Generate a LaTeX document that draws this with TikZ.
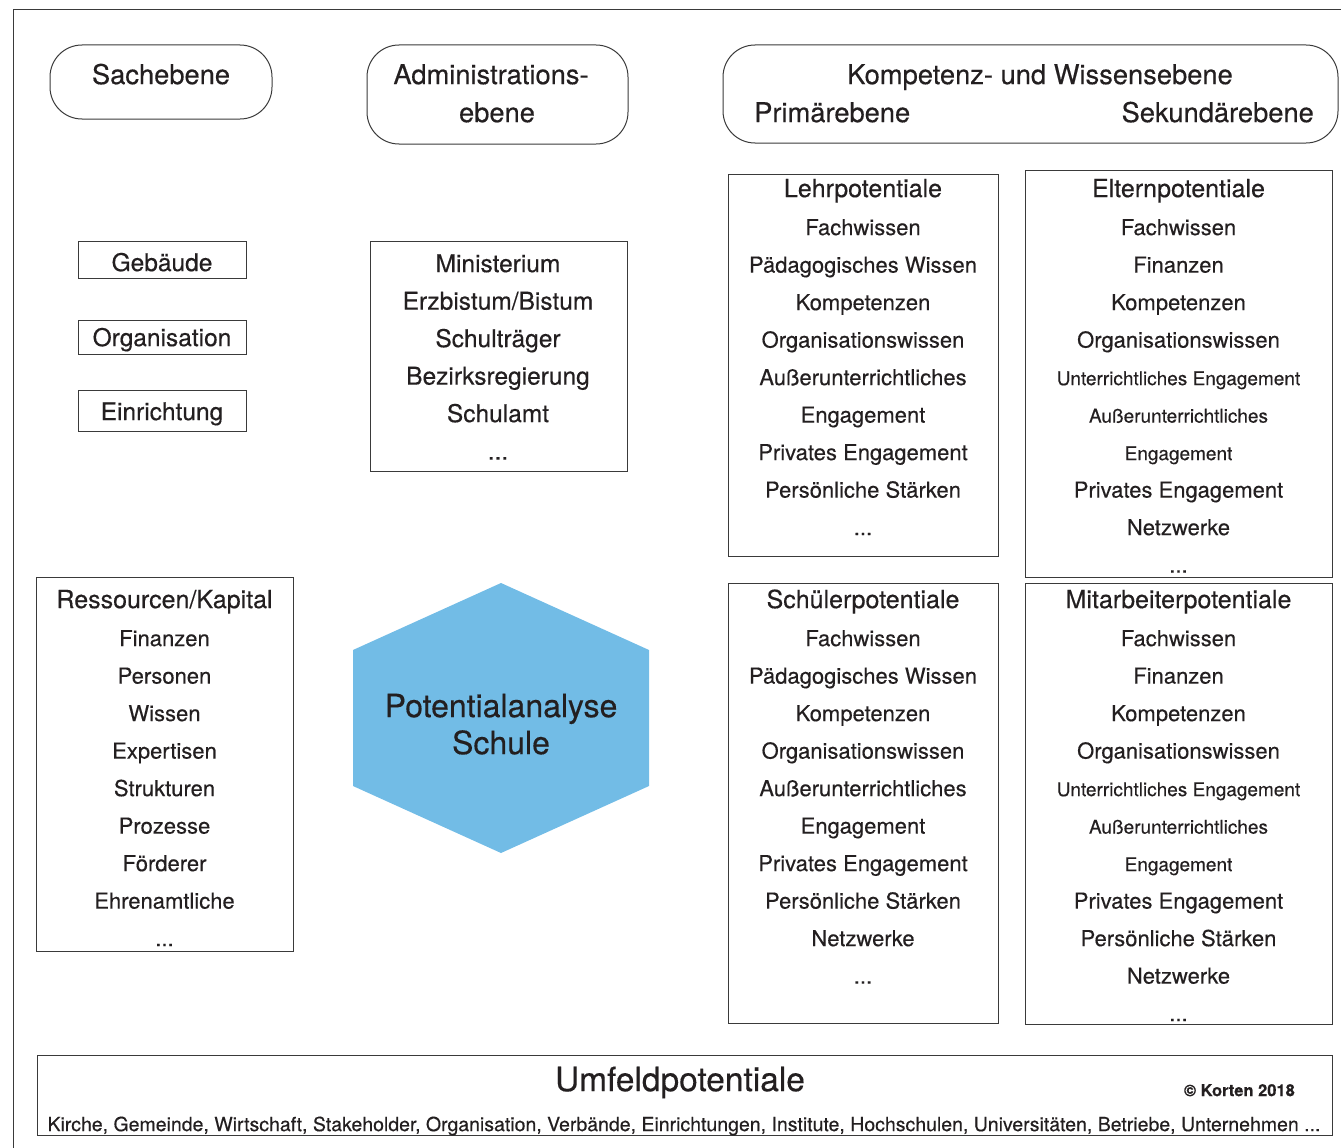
\documentclass[tikz,border=0pt]{standalone}
\usepackage{fontspec}
\setmainfont{TeX Gyre Heros}[FakeBold=0.35]
\definecolor{linie}{HTML}{3A3A3A}
\definecolor{schrift}{HTML}{231F20}
\definecolor{hexblau}{HTML}{72BCE6}
\newcommand{\kopf}{\fontsize{27.3}{32}\selectfont}
\newcommand{\titel}{\fontsize{25}{30}\selectfont}
\newcommand{\sache}{\fontsize{24.5}{29}\selectfont}
\newcommand{\eintrag}{\fontsize{22}{26}\selectfont}
\newcommand{\klein}{\fontsize{19}{22}\selectfont}
\newcommand{\punkte}{...}
\tikzset{
  ebene/.style={draw=linie, line width=1pt, rounded corners=32pt},
  kasten/.style={draw=linie, line width=1pt},
  txt/.style={text=schrift, anchor=mid, inner sep=0pt, yshift=-5.5pt},
}

\begin{document}
\begin{tikzpicture}[x=1pt, y=-1pt]
    \useasboundingbox (0,0) rectangle (1341,1148);
    \draw[linie, line width=1pt] (13,1170) -- (13,10) -- (1370,10);

    \draw[ebene] (50,45) rectangle (272,119);
    \node[txt, font=\kopf] (sachebene) at (161,76) {Sachebene};
    \draw[ebene] (367,45) rectangle (628,144);
    \node[txt, font=\kopf] (admin1) at (491,76) {Administrations-};
    \node[txt, font=\kopf] (admin2) at (497,114) {ebene};
    \draw[ebene] (723,45) rectangle (1338,143);
    \node[txt, font=\kopf] (kompetenz) at (1040,76) {Kompetenz- und Wissensebene};
    \node[txt, font=\kopf, anchor=mid west] (primaer) at (754,114) {Primärebene};
    \node[txt, font=\kopf, anchor=mid east] (sekundaer) at (1314,114) {Sekundärebene};

    \draw[kasten] (78,241) rectangle (246,278);
    \node[txt, font=\sache] (gebaeude) at (162,263) {Gebäude};
    \draw[kasten] (78,320) rectangle (246,354);
    \node[txt, font=\sache] (organisation) at (162,338) {Organisation};
    \draw[kasten] (78,390) rectangle (246,431);
    \node[txt, font=\sache] (einrichtung) at (162,412) {Einrichtung};

    \draw[kasten] (370,241) rectangle (627,471);
    \foreach \t [count=\i from 0] in {Ministerium, Erzbistum/Bistum, Schulträger, Bezirksregierung, Schulamt, \punkte}
        \node[txt, font=\sache] (admin-\i) at (498,264+37.5*\i) {\t};

    \draw[kasten] (728,174) rectangle (998,556);
    \node[txt, font=\titel] (lehr) at (863,189) {Lehrpotentiale};
    \foreach \t [count=\i from 0] in {Fachwissen, Pädagogisches Wissen, Kompetenzen, Organisationswissen, Außerunterrichtliches, Engagement, Privates Engagement, Persönliche Stärken, \punkte}
        \node[txt, font=\eintrag] (lehr-\i) at (863,227+37.5*\i) {\t};

    \draw[kasten] (1025,170) rectangle (1332,577);
    \node[txt, font=\titel] (eltern) at (1178.5,189) {Elternpotentiale};
    \foreach \t [count=\i from 0] in {Fachwissen, Finanzen, Kompetenzen, Organisationswissen, {\klein Unterrichtliches Engagement}, {\klein Außerunterrichtliches}, {\klein Engagement}, Privates Engagement, Netzwerke, \punkte}
        \node[txt, font=\eintrag] (eltern-\i) at (1178.5,227+37.5*\i) {\t};

    \draw[kasten] (728,583) rectangle (998,1023);
    \node[txt, font=\titel] (schueler) at (863,600) {Schülerpotentiale};
    \foreach \t [count=\i from 0] in {Fachwissen, Pädagogisches Wissen, Kompetenzen, Organisationswissen, Außerunterrichtliches, Engagement, Privates Engagement, Persönliche Stärken, Netzwerke, \punkte}
        \node[txt, font=\eintrag] (schueler-\i) at (863,638+37.5*\i) {\t};

    \draw[kasten] (1025,583) rectangle (1332,1024);
    \node[txt, font=\titel] (mitarbeiter) at (1178.5,600) {Mitarbeiterpotentiale};
    \foreach \t [count=\i from 0] in {Fachwissen, Finanzen, Kompetenzen, Organisationswissen, {\klein Unterrichtliches Engagement}, {\klein Außerunterrichtliches}, {\klein Engagement}, Privates Engagement, Persönliche Stärken, Netzwerke, \punkte}
        \node[txt, font=\eintrag] (mitarbeiter-\i) at (1178.5,638+37.5*\i) {\t};

    \draw[kasten] (36,577) rectangle (293,951);
    \node[txt, font=\titel] (ressourcen) at (164.5,600) {Ressourcen/Kapital};
    \foreach \t [count=\i from 0] in {Finanzen, Personen, Wissen, Expertisen, Strukturen, Prozesse, Förderer, Ehrenamtliche, \punkte}
        \node[txt, font=\eintrag] (ressourcen-\i) at (164.5,638+37.5*\i) {\t};

    \fill[hexblau] (501,583) -- (649,650) -- (649,786) -- (501,853) -- (353,786) -- (353,650) -- cycle;
    \node[txt, font=\fontsize{32}{37}\selectfont] (potential) at (501,709) {Potentialanalyse};
    \node[txt, font=\fontsize{32}{37}\selectfont] (schule) at (501,746) {Schule};

    \draw[kasten] (37,1055) rectangle (1332,1135);
    \node[txt, font=\fontsize{33.5}{38}\selectfont] (umfeld) at (680,1083) {Umfeldpotentiale};
    \node[txt, font=\fontsize{16.5}{19}\selectfont\bfseries, anchor=mid east] (korten) at (1295,1088) {© Korten 2018};
    \node[txt, font=\fontsize{19.5}{23}\selectfont] (umfeld-liste) at (684,1123) {Kirche, Gemeinde, Wirtschaft, Stakeholder, Organisation, Verbände, Einrichtungen, Institute, Hochschulen, Universitäten, Betriebe, Unternehmen ...};
\end{tikzpicture}
\end{document}
